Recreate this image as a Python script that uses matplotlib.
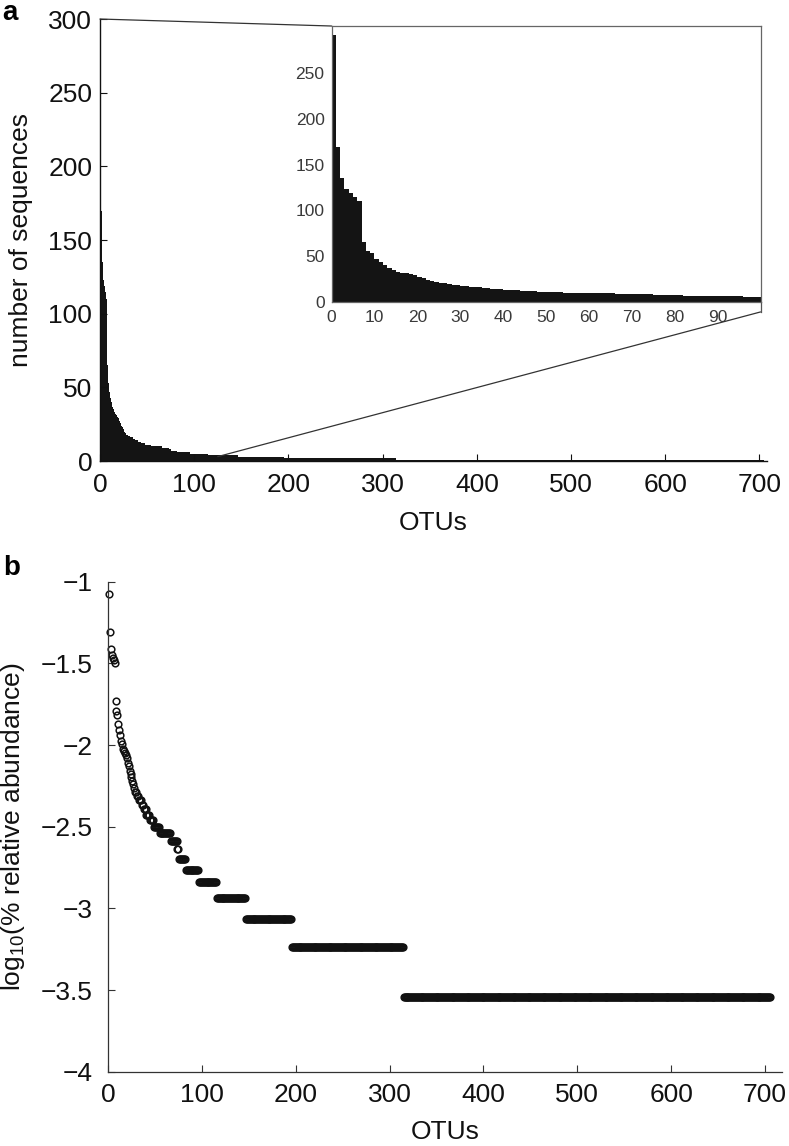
import numpy as np
import matplotlib.pyplot as plt
from matplotlib.patches import ConnectionPatch

plt.rcParams['font.family'] = ['Liberation Sans', 'DejaVu Sans']
plt.rcParams['mathtext.fontset'] = 'custom'
plt.rcParams['mathtext.rm'] = 'Liberation Sans'

# sequences per OTU for the most abundant OTUs, in rank order
top_counts = [292, 170, 135, 123, 119, 115, 110, 65, 56, 53,
              47, 43, 40, 37, 35, 33, 32, 31, 30, 29,
              27, 26, 24, 23, 22, 21, 20, 19, 18, 18,
              17, 17, 16, 16, 16, 15, 15, 14, 14, 14,
              13, 13, 13, 13, 12, 12, 12, 12]
# rest of the ranking: count value and number of OTUs sharing it
tail_values = [11, 10, 9, 8, 7, 6, 5, 4, 3, 2, 1]
tail_runs = [6, 12, 7, 2, 7, 14, 19, 31, 49, 119, 391]
total_sequences = 347000   # singletons sit at log10(%) = -3.54

main_xticks = [0, 100, 200, 300, 400, 500, 600, 700]
main_yticks = [0, 50, 100, 150, 200, 250, 300]
inset_xticks = [0, 10, 20, 30, 40, 50, 60, 70, 80, 90]
inset_yticks = [0, 50, 100, 150, 200, 250]
b_yticks = [-4, -3.5, -3, -2.5, -2, -1.5, -1]
b_yticklabels = ['\u22124', '\u22123.5', '\u22123', '\u22122.5', '\u22122', '\u22121.5', '\u22121']

counts = np.concatenate([top_counts, np.repeat(tail_values, tail_runs)])
n_otu = len(counts)
rel_log = np.log10(counts / total_sequences * 100)

fig = plt.figure(figsize=(7.89, 11.46), dpi=100)

# ---- panel a: rank abundance bars
ax = fig.add_axes([0.1267, 0.5977, 0.8454, 0.3857])
ax.bar(np.arange(n_otu), counts, width=1, align='edge', color='#141414', linewidth=0)
ax.set_xlim(0, 708)
ax.set_ylim(0, 300)
ax.set_xticks(main_xticks)
ax.set_yticks(main_yticks)
ax.spines['top'].set_visible(False)
ax.spines['right'].set_visible(False)
for s in ['left', 'bottom']:
    ax.spines[s].set_linewidth(1.0)
    ax.spines[s].set_color('#111111')
ax.tick_params(direction='in', length=5, width=0.8, labelsize=19, colors='#111111')
ax.tick_params(axis='x', pad=8.5)
ax.tick_params(axis='y', pad=5.5)
ax.set_xlabel('OTUs', fontsize=19, color='#111111')
ax.set_ylabel('number of sequences', fontsize=19, color='#111111')
ax.xaxis.set_label_coords(0.5, -0.113)
ax.yaxis.set_label_coords(-0.1, 0.5)

# zoomed inset of the first 100 OTUs
axin = fig.add_axes([0.4202, 0.7367, 0.5437, 0.2406])
axin.bar(np.arange(n_otu), counts, width=1, align='edge', color='#141414', linewidth=0)
axin.set_xlim(0, 100)
axin.set_ylim(0, 302)
axin.set_xticks(inset_xticks)
axin.set_yticks(inset_yticks)
axin.tick_params(length=0, labelsize=12.5, labelcolor='#3a3a3a')
axin.tick_params(axis='x', pad=6)
axin.tick_params(axis='y', pad=5)
for s in axin.spines.values():
    s.set_color('#666666')
    s.set_linewidth(0.9)

# lines tying the inset to the main plot
con_top = ConnectionPatch(xyA=(0, 1), coordsA=axin.transAxes,
                          xyB=(0, 300), coordsB=ax.transData,
                          color='#333333', lw=0.9)
fig.add_artist(con_top)
axin.plot([1, 1], [0, -0.037], transform=axin.transAxes, clip_on=False,
          color='#555555', lw=0.9)
con_bot = ConnectionPatch(xyA=(1, -0.037), coordsA=axin.transAxes,
                          xyB=(125, 3), coordsB=ax.transData,
                          color='#333333', lw=0.9)
fig.add_artist(con_bot)

# ---- panel b: log relative abundance
axb = fig.add_axes([0.1369, 0.0648, 0.8542, 0.4276])
axb.plot(np.arange(1, n_otu + 1), rel_log, 'o', mfc='none', mec='#111111',
         ms=4.8, mew=1.1, clip_on=False)
axb.set_xlim(0, 718)
axb.set_ylim(-4, -1)
axb.set_xticks(main_xticks)
axb.set_yticks(b_yticks)
axb.set_yticklabels(b_yticklabels)
axb.spines['top'].set_visible(False)
axb.spines['right'].set_visible(False)
for s in ['left', 'bottom']:
    axb.spines[s].set_linewidth(0.9)
    axb.spines[s].set_color('#333333')
axb.tick_params(direction='in', length=5, width=0.8, labelsize=19, colors='#333333',
                labelcolor='#111111')
axb.tick_params(axis='x', pad=8.3)
axb.tick_params(axis='y', pad=11)
axb.set_xlabel('OTUs', fontsize=19, color='#111111')
axb.set_ylabel(r'log$_{\mathregular{10}}$(% relative abundance)', fontsize=19, color='#111111')
axb.xaxis.set_label_coords(0.5, -0.0986)
axb.yaxis.set_label_coords(-0.12, 0.5)

fig.text(0.0127, 0.9825, 'a', fontsize=20, fontweight='bold', ha='center', va='baseline')
fig.text(0.015, 0.4983, 'b', fontsize=20, fontweight='bold', ha='center', va='baseline')

fig.savefig('out.png', dpi=100, facecolor='white')
